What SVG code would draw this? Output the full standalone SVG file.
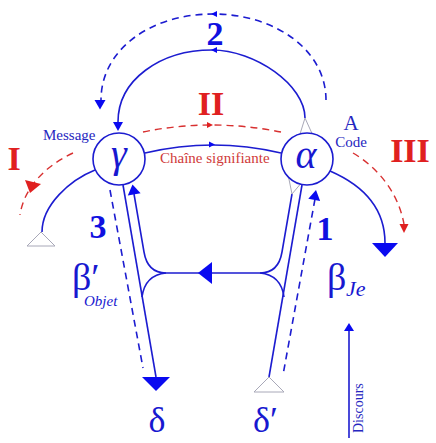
<svg xmlns="http://www.w3.org/2000/svg" width="436" height="443" viewBox="0 0 436 443">
<style>
text{font-family:"Liberation Serif","DejaVu Serif",serif}
.ln{fill:none;stroke:#1c1cd0;stroke-width:1.6}
.dl{fill:none;stroke:#1c1cd0;stroke-width:1.6;stroke-dasharray:7 5}
.rd{fill:none;stroke:#d83030;stroke-width:1.4;stroke-dasharray:7 5}
.ah{fill:#0a0af0}
.rah{fill:#e02020}
.gt{fill:none;stroke:#a8a8b8;stroke-width:1}
.nd{fill:#fff;stroke:#1c1cd0;stroke-width:1.6}
.bt{fill:#2626c0}
.gk{fill:#1818d0}
.rn{fill:#e02020;font-weight:bold;font-size:34px;text-anchor:middle}
.bn{fill:#1010e0;font-weight:bold;font-size:34px;text-anchor:middle}
</style>
<rect width="436" height="443" fill="#fff"/>
<g id="connectors">
<path class="dl" d="M326,100 C326,50 275,14 213,14 C150,14 101,50 101,100"/>
<polygon class="ah" points="217,11 217,17 211,14"/>
<polygon class="ah" points="94.5,100 105.5,100 100,109.5"/>
<path class="ln" d="M118,122 C118,80 160,50 212,50 C255,50 305,85 305,118"/>
<polygon class="ah" points="217,47 217,53 211,50"/>
<polygon class="ah" points="113,122 123,122 118,131"/>
<path class="rd" d="M143,132 Q211,118 281,132"/>
<polygon class="rah" points="207,122 207,128 213,125"/>
<path class="ln" d="M145,153 Q213,137 281,153"/>
<polygon class="ah" points="209,141.5 209,147.5 215,144.5"/>
<path class="rd" d="M73,153 C45,166 24,188 20,215"/>
<polygon class="rah" points="25,180 41,184 30,193"/>
<path class="rd" d="M353,153 C378,168 398,192 404,224"/>
<polygon class="rah" points="399.5,224 408.5,224 404,233"/>
<path class="ln" d="M95,170 C70,180 42,205 42,232"/>
<path class="ln" d="M330,171 C360,184 385,205 385,243"/>
<polygon class="ah" points="372,243 398,243 385,257"/>
<path class="ln" d="M123,185 L156,377"/>
<polygon class="ah" points="142,377 170,377 156,391"/>
<path class="ln" d="M134,194 L144,252 Q147.5,273 166,273 L260,273 Q278.5,273 282,252 L292,194"/>
<path class="ln" d="M166,273 Q145,275 142,297"/>
<path class="ln" d="M260,273 Q281,275 284,297"/>
<polygon class="ah" points="132.5,184.5 127.8,195.5 140.6,193.3"/>
<polygon class="ah" points="198,273 212,262 212,284"/>
<path class="ln" d="M302,185 L269,377"/>
<path class="dl" d="M110,190 L143,368"/>
<path class="dl" d="M315,199 L283,375"/>
<polygon class="ah" points="316,190 308.3,198.7 320.1,200.9"/>
<polygon class="gt" points="41,232 27,246 55,246" fill="#fff"/>
<polygon class="gt" points="269,377 254,392 284,392" fill="#fff"/>
<polyline class="gt" points="300,134 305,118 312,133.5"/>
<polyline class="gt" points="288.6,177.4 292,194 300,184.5"/>
<path class="ln" d="M349,438 L349,330"/>
<polygon class="ah" points="344,331 354,331 349,323"/>
</g>
<g id="node-gamma">
<circle class="nd" cx="119" cy="159" r="26"/>
<text class="gk" x="119" y="167" font-size="40" font-style="italic" text-anchor="middle">γ</text>
</g>
<g id="node-alpha">
<circle class="nd" cx="307" cy="159" r="26"/>
<text class="gk" x="306" y="168" font-size="40" font-style="italic" text-anchor="middle">α</text>
</g>
<g id="label-message"><text class="bt" x="43" y="140" font-size="15">Message</text></g>
<g id="label-code">
<text class="bt" x="351" y="130" font-size="21" text-anchor="middle">A</text>
<text class="bt" x="351" y="147" font-size="15" text-anchor="middle">Code</text>
</g>
<g id="label-chaine"><text x="160" y="163" font-size="15" fill="#d03a3a">Chaîne signifiante</text></g>
<g id="roman-numerals">
<text class="rn" x="14" y="170">I</text>
<text class="rn" x="211" y="115">II</text>
<text class="rn" x="410" y="162">III</text>
</g>
<g id="numbers">
<text class="bn" x="215" y="45">2</text>
<text class="bn" x="98" y="238">3</text>
<text class="bn" x="325" y="240">1</text>
</g>
<g id="node-delta"><text class="gk" x="157" y="432" font-size="36" text-anchor="middle">δ</text></g>
<g id="node-delta-prime"><text class="gk" x="253" y="432" font-size="36">δ′</text></g>
<g id="node-beta-objet">
<text class="gk" x="72" y="290" font-size="38">β′</text>
<text class="gk" x="84" y="306" font-size="15" font-style="italic">Objet</text>
</g>
<g id="node-beta-je">
<text class="gk" x="327" y="290" font-size="38">β</text>
<text class="gk" x="346" y="296" font-size="22" font-style="italic">Je</text>
</g>
<g id="label-discours"><text class="bt" transform="translate(363,433) rotate(-90)" font-size="14">Discours</text></g>
</svg>
